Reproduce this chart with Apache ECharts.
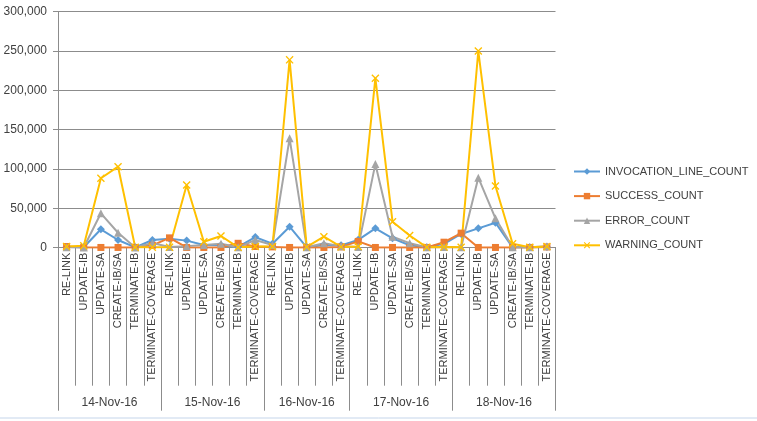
<!DOCTYPE html>
<html>
<head>
<meta charset="utf-8">
<script src="https://cdn.jsdelivr.net/npm/echarts@6/dist/echarts.min.js"></script>
<style>
html,body{margin:0;padding:0;background:#fff;}
#chart{width:757px;height:421px;}
</style>
</head>
<body>
<div id="chart"></div>
<script>
// ---- data ----
var dates = ['14-Nov-16', '15-Nov-16', '16-Nov-16', '17-Nov-16', '18-Nov-16'];
var groupCategories = [
  ['RE-LINK', 'UPDATE-IB', 'UPDATE-SA', 'CREATE-IB/SA', 'TERMINATE-IB', 'TERMINATE-COVERAGE'],
  ['RE-LINK', 'UPDATE-IB', 'UPDATE-SA', 'CREATE-IB/SA', 'TERMINATE-IB', 'TERMINATE-COVERAGE'],
  ['RE-LINK', 'UPDATE-IB', 'UPDATE-SA', 'CREATE-IB/SA', 'TERMINATE-COVERAGE'],
  ['RE-LINK', 'UPDATE-IB', 'UPDATE-SA', 'CREATE-IB/SA', 'TERMINATE-IB', 'TERMINATE-COVERAGE'],
  ['RE-LINK', 'UPDATE-IB', 'UPDATE-SA', 'CREATE-IB/SA', 'TERMINATE-IB', 'TERMINATE-COVERAGE']
];
var seriesNames = ['INVOCATION_LINE_COUNT', 'SUCCESS_COUNT', 'ERROR_COUNT', 'WARNING_COUNT'];
var invocationCount = [1000, 500, 23400, 9800, 500, 9800, 11500, 9000, 3500, 3000, 1000, 13500,
  5000, 26700, 500, 3400, 3000, 10000, 24600, 12000, 3000, 500, 5000, 17500, 24600, 31800, 500, 500, 1000];
var successCount = [1500, 300, 300, 300, 300, 3000, 12500, 300, 300, 300, 5600, 1500,
  1000, 300, 300, 300, 1000, 8000, 300, 300, 300, 300, 7000, 18500, 300, 300, 300, 300, 1000];
var errorCount = [500, 200, 43700, 19000, 200, 6000, 1000, 2000, 3400, 5000, 500, 9800,
  3400, 139000, 500, 5600, 2000, 1000, 106500, 14000, 5600, 500, 1000, 500, 89000, 37400, 500, 500, 2000];
var warningCount = [1500, 2500, 88300, 103000, 500, 500, 500, 79800, 7600, 14900, 500, 1500,
  1500, 238800, 1000, 14000, 1000, 1500, 215500, 33000, 15500, 500, 1000, 500, 250000, 78500, 5000, 500, 1500];
var yTicks = [0, 50000, 100000, 150000, 200000, 250000, 300000];

// ---- derived axis data ----
var categories = [];
groupCategories.forEach(function (g) { categories = categories.concat(g); });
var N = categories.length;
// half-step positions 0..2N for the date level (boundaryGap false)
var dateSlots = [];
for (var k = 0; k <= 2 * N; k++) dateSlots.push('');
var boundaries = {0: true};
var pos = 0;
groupCategories.forEach(function (g, i) {
  var center = pos * 2 + g.length; // in half units
  dateSlots[center] = dates[i];
  pos += g.length;
  boundaries[pos * 2] = true;
});

var colors = ['#5B9BD5', '#ED7D31', '#A5A5A5', '#FFC000'];
var xSymbol = 'path://M0,1.2 L1.2,0 L5,3.8 L8.8,0 L10,1.2 L6.2,5 L10,8.8 L8.8,10 L5,6.2 L1.2,10 L0,8.8 L3.8,5 Z';
var symbols = ['diamond', 'rect', 'triangle', xSymbol];
var symbolSizes = [8, 7, 8, 8];
var values = [invocationCount, successCount, errorCount, warningCount];

var gridColor = '#8c8c8c';
var textColor = '#404040';
var font = 'Liberation Sans, Arial, sans-serif';

var chart = echarts.init(document.getElementById('chart'), null, {renderer: 'canvas'});
chart.setOption({
  animation: false,
  textStyle: {fontFamily: font},
  grid: {left: 58, right: 201.5, top: 11.7, bottom: 173.3, containLabel: false},
  legend: {
    orient: 'vertical',
    left: 573, top: 166, padding: 0,
    itemWidth: 26, itemHeight: 8, itemGap: 13.6,
    textStyle: {fontSize: 11, color: textColor, fontFamily: font},
    data: seriesNames
  },
  graphic: [{
    type: 'line', silent: true,
    shape: {x1: 0, y1: 418, x2: 757, y2: 418},
    style: {stroke: '#c5d5ea', lineWidth: 1}
  }],
  xAxis: [{
    type: 'category',
    data: categories,
    boundaryGap: true,
    axisLine: {show: true, lineStyle: {color: gridColor, width: 1}},
    axisTick: {show: true, interval: 0, length: 138, lineStyle: {color: gridColor}},
    axisLabel: {rotate: 90, interval: 0, margin: 5, fontSize: 11, color: textColor, fontFamily: font},
    splitLine: {show: false}
  }, {
    type: 'category',
    data: dateSlots,
    boundaryGap: false,
    position: 'bottom',
    axisLine: {show: false},
    axisTick: {show: true, length: 163, lineStyle: {color: gridColor},
      interval: function (idx) { return !!boundaries[idx]; }},
    axisLabel: {interval: function (idx, v) { return v !== ''; }, margin: 149, fontSize: 12, color: textColor, fontFamily: font},
    splitLine: {show: false}
  }],
  yAxis: {
    type: 'value',
    min: yTicks[0], max: yTicks[yTicks.length - 1], interval: yTicks[1] - yTicks[0],
    axisLine: {show: true, lineStyle: {color: gridColor}},
    axisTick: {show: true, length: 5, lineStyle: {color: gridColor}},
    axisLabel: {margin: 11, fontSize: 12, color: textColor, fontFamily: font,
      formatter: function (v) { return v.toLocaleString('en-US'); }},
    splitLine: {show: true, lineStyle: {color: gridColor, width: 1}}
  },
  series: seriesNames.map(function (name, i) {
    return {
      name: name,
      type: 'line',
      xAxisIndex: 0,
      data: values[i],
      symbol: symbols[i],
      symbolSize: symbolSizes[i],
      showAllSymbol: true,
      lineStyle: {color: colors[i], width: 2},
      itemStyle: {color: colors[i]}
    };
  })
});
</script>
</body>
</html>
